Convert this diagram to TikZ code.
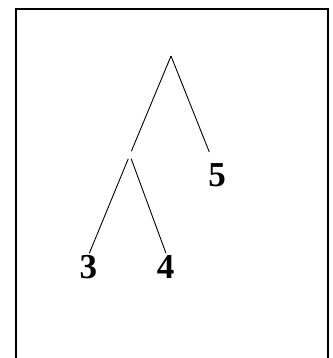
\documentclass[tikz,border=0pt]{standalone}
\usepackage{fontspec}
\setmainfont{Liberation Serif}
\usetikzlibrary{calc}
\begin{document}
\begin{tikzpicture}[x=1pt,y=-1pt,
  leaf/.style={inner sep=0pt,font=\bfseries\fontsize{35}{35}\selectfont},
  edge/.style={line width=0.9pt},
  frame/.style={line width=2pt}]
\useasboundingbox (0,0) rectangle (332,358);
\draw[frame] (16,362) -- (16,9) -- (328,9) -- (328,362);
\coordinate (root) at (171,56);
\node[circle,inner sep=0pt,minimum size=7.8pt] (inner) at (129.8,155) {};
\node[leaf] (l3) at (88.3,267) {3};
\node[leaf] (l4) at (165.7,267) {4};
\node[leaf] (l5) at (217,175.5) {5};
\coordinate (e3) at (89.3,253.3);
\coordinate (e4) at (166,253.3);
\coordinate (e5) at (209.3,152);
\draw[edge] (root) -- (inner);
\draw[edge] (root) -- (e5);
\draw[edge] (inner) -- (e3);
\draw[edge] (inner) -- (e4);
\end{tikzpicture}
\end{document}
